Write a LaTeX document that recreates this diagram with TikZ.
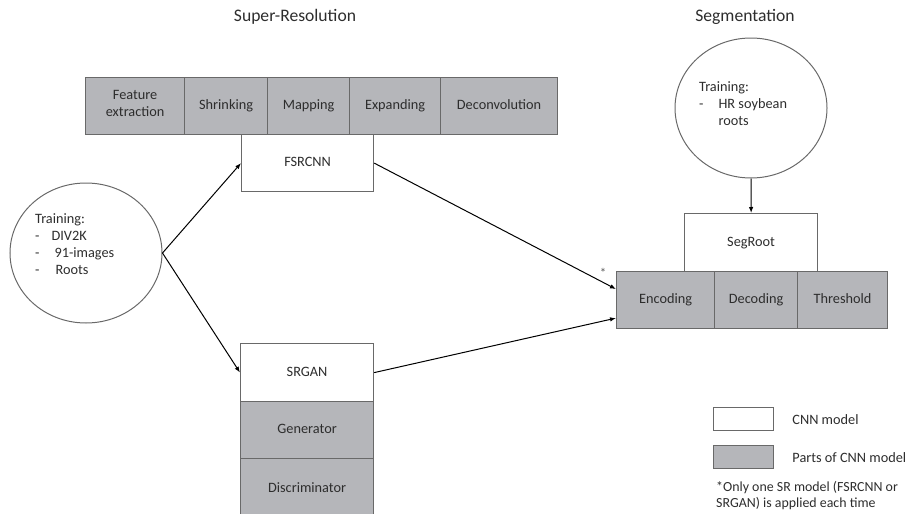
\documentclass[tikz,border=0pt]{standalone}
\usepackage{fontspec}
\setmainfont{Carlito}
\usetikzlibrary{shapes.geometric,arrows.meta,positioning}
\definecolor{partgray}{RGB}{181,182,186}
\definecolor{edgegray}{RGB}{105,105,105}
\definecolor{textgray}{RGB}{45,45,45}

\begin{document}
\begin{tikzpicture}[x=1pt,y=-1pt]
        \tikzstyle{every node}=[inner sep=0pt, text=textgray, font=\fontsize{14.3}{17}\selectfont]
        \tikzstyle{model}=[draw=edgegray, line width=1.2pt, fill=white, anchor=north west, align=center, execute at begin node=\strut, execute at end node=\strut]
        \tikzstyle{part}=[model, fill=partgray]
        \tikzstyle{data}=[draw=edgegray, line width=1pt, ellipse, minimum width=152pt, minimum height=140pt]
        \tikzstyle{conn}=[->, >={Latex[length=6pt,width=4.5pt]}, line width=1pt]

        \useasboundingbox (0,0) rectangle (911,514);

        \node (srtitle) at (295,17) {\fontsize{17.6}{20}\selectfont Super-Resolution};
        \node (segtitle) at (745,17) {\fontsize{17.6}{20}\selectfont Segmentation};

        % super-resolution: FSRCNN and its parts
        \foreach \name/\x/\w/\txt in {fe/85/99/{Feature\\extraction}, sh/184/83/Shrinking, ma/267/82/Mapping, ex/349/91/Expanding, de/440/117/Deconvolution} {
            \node[part, minimum width=\w pt, minimum height=57pt] (\name) at (\x,77) {\txt};
        }
        \node[model, minimum width=132pt, minimum height=57pt] (fsrcnn) at (241,134) {FSRCNN};

        % super-resolution: SRGAN and its parts
        \node[model, minimum width=133pt, minimum height=58pt] (srgan) at (240,343) {SRGAN};
        \node[part, minimum width=133pt, minimum height=57pt] (gen) at (240,401) {Generator};
        \node[part, minimum width=133pt, minimum height=60pt] (disc) at (240,458) {Discriminator};

        % training data
        \node[data] (srtrain) at (86,253) {};
        \node[anchor=north west] (srtraintxt) at (35,211) {\begin{tabular}{@{}l@{\hspace{12pt}}l@{}}
            \multicolumn{2}{@{}l}{Training:}\\
            - & DIV2K\\
            - & \hspace{3pt}91-images\\
            - & \hspace{4pt}Roots
        \end{tabular}};

        \node[data] (segtrain) at (751,108) {};
        \node[anchor=north west] (segtraintxt) at (699,79) {\begin{tabular}{@{}l@{\hspace{15pt}}l@{}}
            \multicolumn{2}{@{}l}{Training:}\\
            - & HR soybean\\
              & roots
        \end{tabular}};

        % segmentation: SegRoot and its parts
        \node[model, minimum width=133pt, minimum height=58pt] (segroot) at (684,213) {SegRoot};
        \foreach \name/\x/\w/\txt in {enc/616/98/Encoding, dec/714/83/Decoding, thr/797/90/Threshold} {
            \node[part, minimum width=\w pt, minimum height=57pt] (\name) at (\x,271) {\txt};
        }

        \draw[conn] (srtrain.east) -- (fsrcnn.west);
        \draw[conn] (srtrain.east) -- (srgan.west);
        \draw[conn] (fsrcnn.east) -- ([yshift=11pt]enc.west);
        \draw[conn] (srgan.east) -- ([yshift=-18pt]enc.west);
        \draw[conn] (segtrain.south) -- (segroot.north);
        \node[text=black!65] (star) at (603,273) {\fontsize{13}{13}\selectfont *};

        % legend
        \node[model, minimum width=60pt, minimum height=23pt] (legmodel) at (713,407) {};
        \node[part, minimum width=60pt, minimum height=23pt] (legpart) at (713,445) {};
        \node[right=18pt of legmodel] (legmodeltxt) {CNN model};
        \node[right=18pt of legpart] (legparttxt) {Parts of CNN model};
        \node[anchor=north west, align=left, font=\fontsize{13.9}{16}\selectfont] (note) at (716,481) {*Only one SR model (FSRCNN or\\SRGAN) is applied each time};
\end{tikzpicture}
\end{document}
